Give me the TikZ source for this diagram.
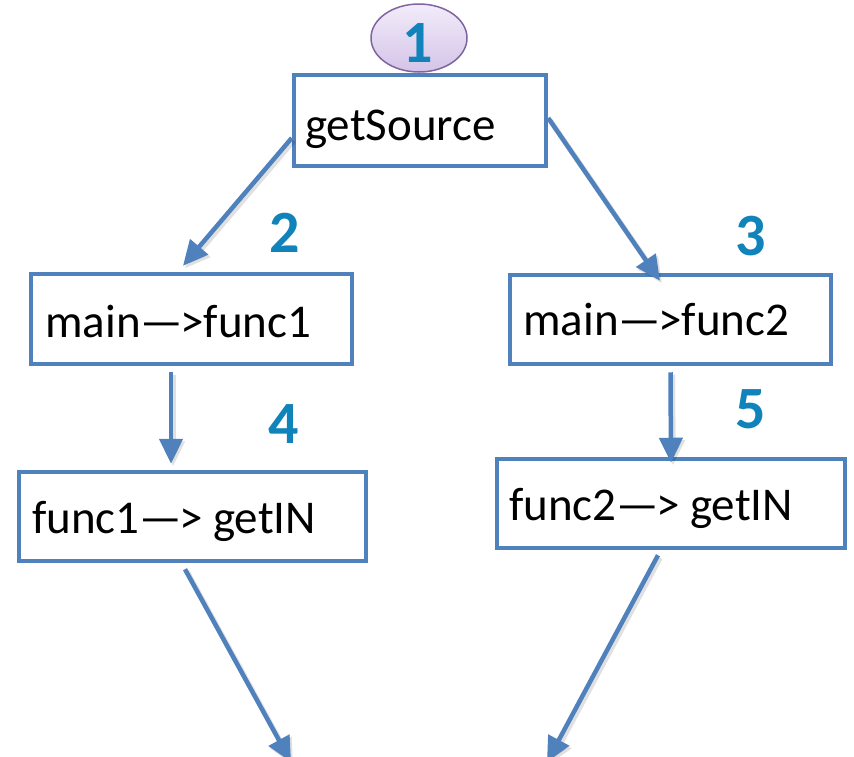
\documentclass[tikz,border=0pt]{standalone}
\usepackage{fontspec}
\setmainfont{Carlito}
\usetikzlibrary{arrows.meta,shapes.geometric}
\definecolor{boxblue}{RGB}{79,129,189}
\definecolor{numblue}{RGB}{16,132,186}
\definecolor{badgeedge}{RGB}{128,100,162}
\definecolor{badgetop}{RGB}{242,236,250}
\definecolor{badgebot}{RGB}{212,196,232}
\newcommand{\callarrow}{—\kern-3pt>}
\tikzset{
  box/.style={rectangle, draw=boxblue, line width=4.5pt, fill=white, inner sep=0pt},
  lbl/.style={anchor=base west, inner sep=0pt, font=\fontsize{47}{47}\selectfont},
  num/.style={anchor=base, inner sep=0pt, text=numblue, font=\fontsize{60}{60}\selectfont\bfseries},
  flow/.style={draw=boxblue, line width=4.5pt, -{Triangle[length=25pt,width=23pt]},
    preaction={draw=black, opacity=0.12, line width=5.5pt,
      transform canvas={xshift=2pt,yshift=-2.5pt}}},
}
\begin{document}
\begin{tikzpicture}[x=1pt,y=-1pt]
\useasboundingbox (0,0) rectangle (854,756);
\clip (0,0) rectangle (854,756);

% step badge on top of the first box
\node[ellipse, draw=badgeedge, line width=1.5pt, top color=badgetop, bottom color=badgebot,
      minimum width=96, minimum height=68, inner sep=0pt] (badge) at (419,38) {};
\node[num] (n1) at (418,62) {1};

% call boxes
\node[box, minimum width=252, minimum height=91] (src) at (420,120.5) {};
\node[box, minimum width=321, minimum height=90] (f1) at (191.5,319) {};
\node[box, minimum width=321, minimum height=89] (f2) at (670.5,319.5) {};
\node[box, minimum width=347, minimum height=89] (f3) at (192.5,516.5) {};
\node[box, minimum width=348, minimum height=89] (f4) at (671,503.5) {};

% box texts
\node[lbl] (tsrc) at (305,140) {getSource};
\node[lbl] (tf1) at (45,337) {main\callarrow func1};
\node[lbl] (tf2) at (523,335) {main\callarrow func2};
\node[lbl] (tf3) at (32,533) {func1\callarrow{} getIN};
\node[lbl] (tf4) at (509,520) {func2\callarrow{} getIN};

% step numbers
\node[num] (n2) at (285,252) {2};
\node[num] (n3) at (751,255) {3};
\node[num] (n4) at (284,443) {4};
\node[num] (n5) at (751,428) {5};

% loose ends below the picture edge
\coordinate (out1) at (291,762);
\coordinate (out2) at (547,762);

% connectors
\draw[flow] ([yshift=-17.5pt]src.west) -- ([xshift=-8.5pt,yshift=6pt]f1.north);
\draw[flow] ([yshift=2.5pt]src.east) -- ([xshift=-10.5pt,yshift=-8pt]f2.north);
\draw[flow] ([xshift=-20.5pt,yshift=-6pt]f1.south) -- ([xshift=-21.5pt,yshift=6pt]f3.north);
\draw[flow] ([yshift=-6pt]f2.south) -- ([yshift=-6pt]f4.north);
\draw[flow] ([xshift=-7.5pt,yshift=-6pt]f3.south) -- (out1);
\draw[flow] ([xshift=-13pt,yshift=-5pt]f4.south) -- (out2);
\end{tikzpicture}
\end{document}
